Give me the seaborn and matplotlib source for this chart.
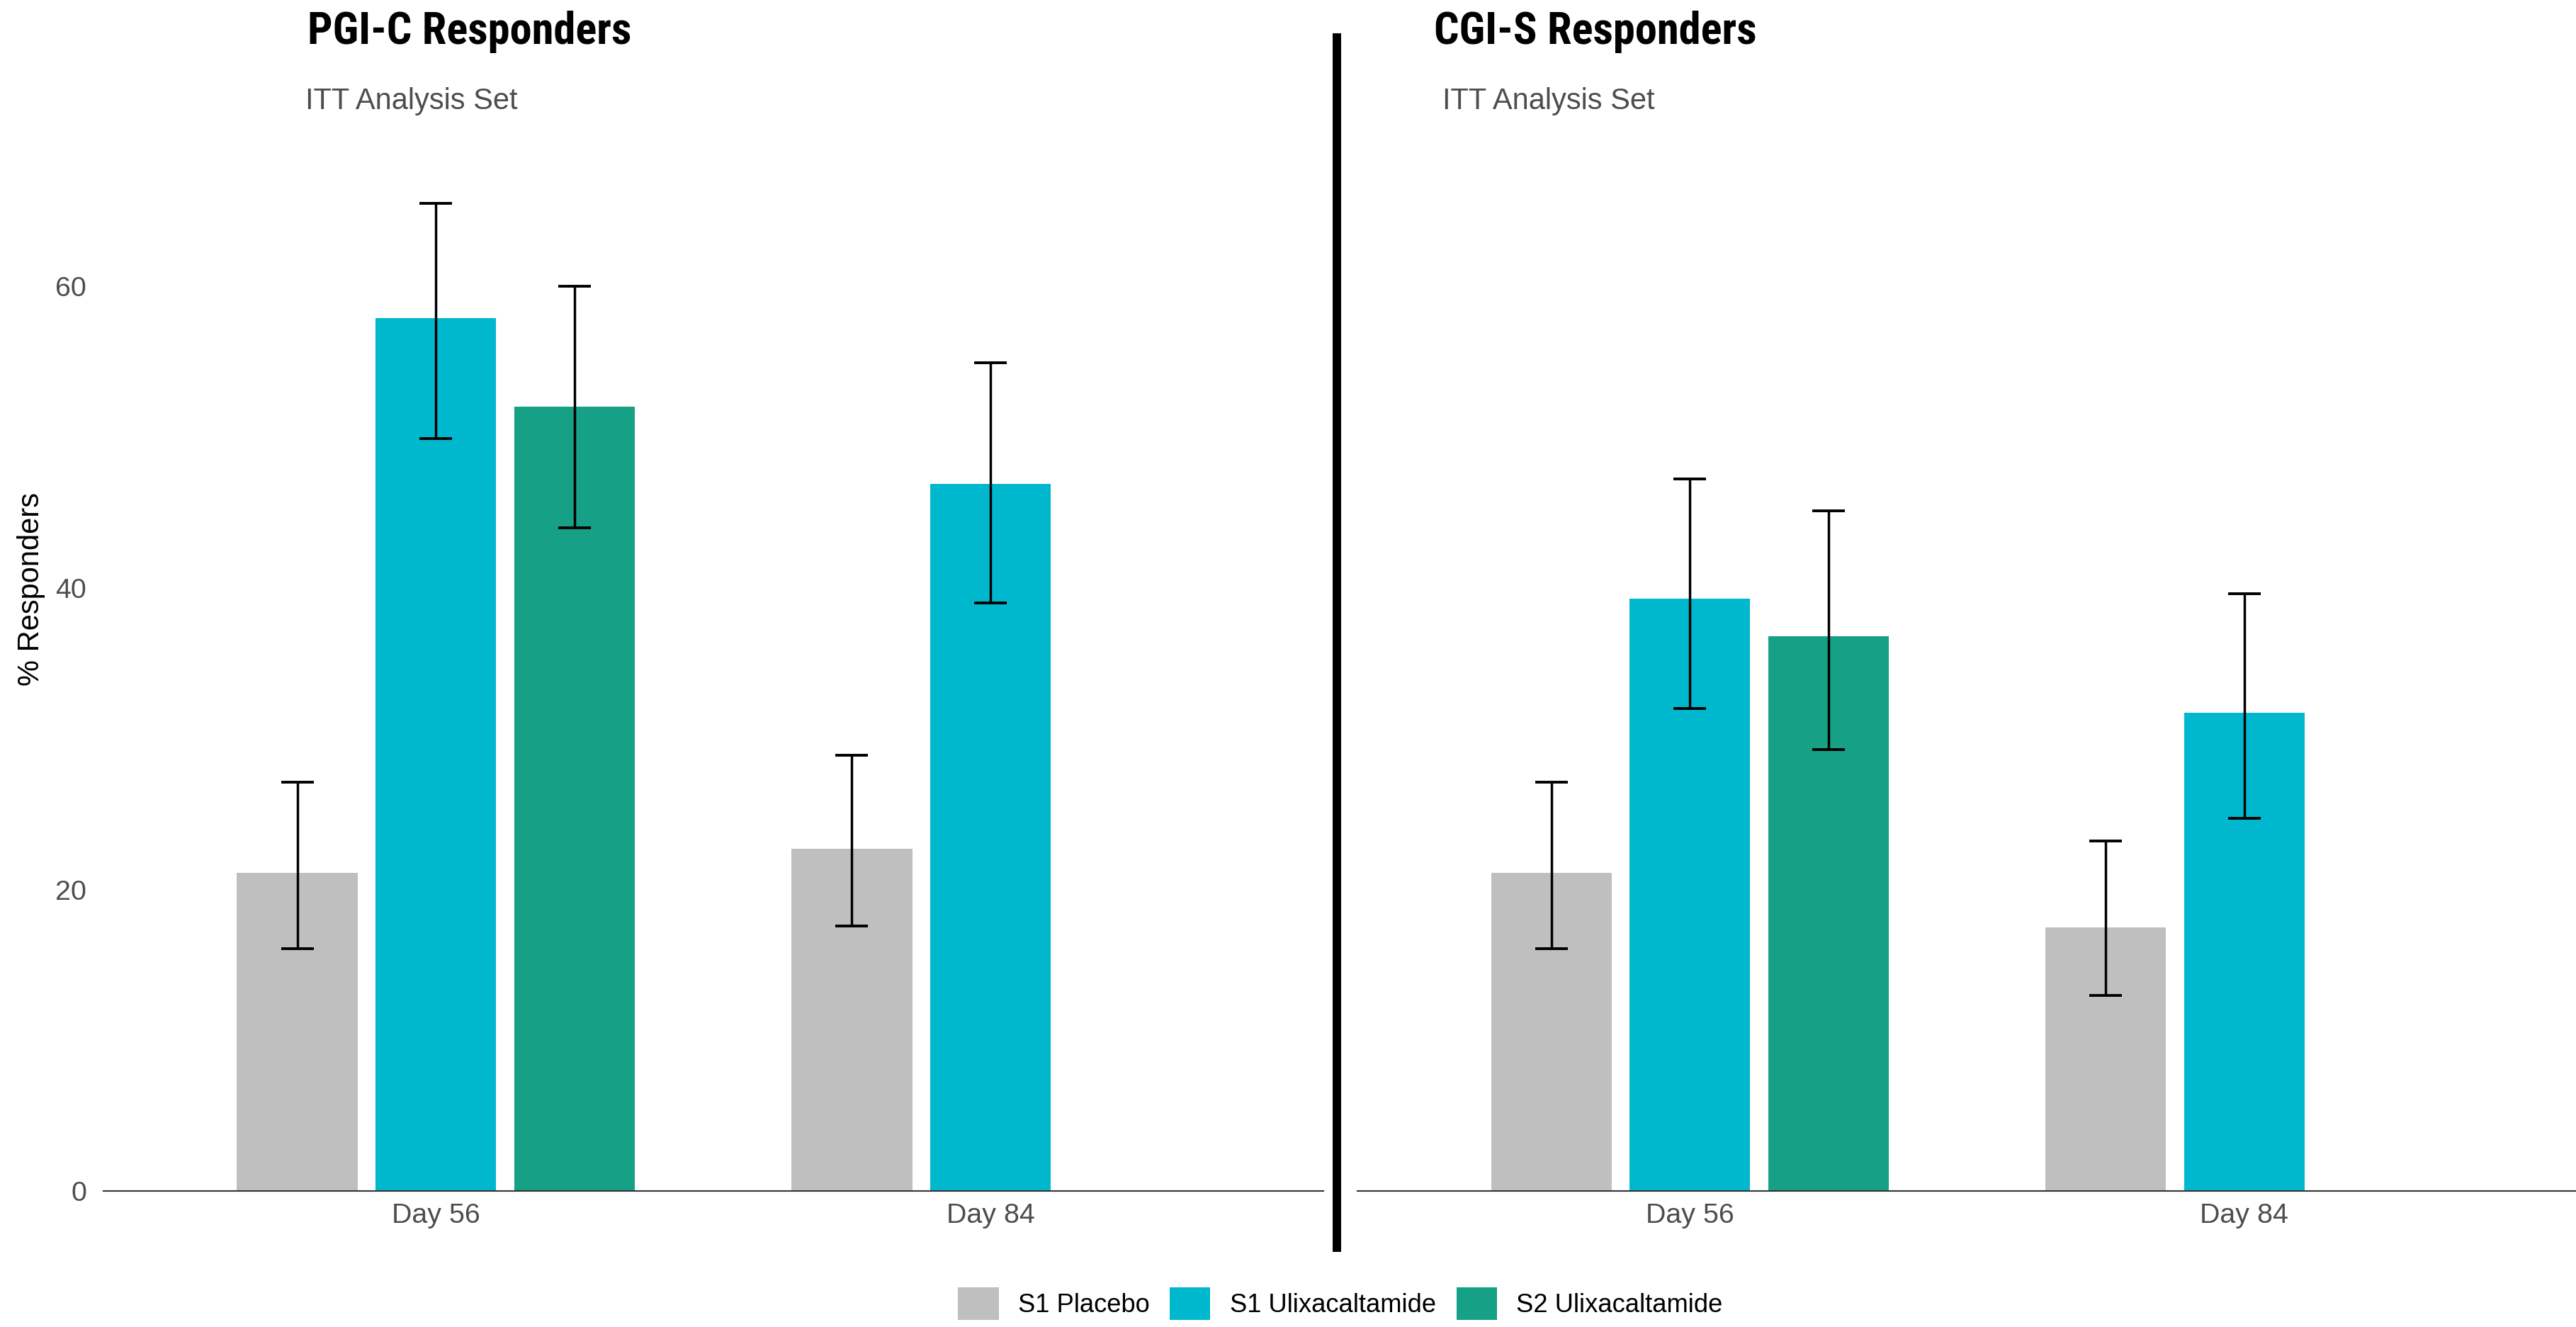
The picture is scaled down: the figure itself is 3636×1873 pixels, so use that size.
import numpy as np
import pandas as pd
import matplotlib
matplotlib.use("Agg")
import matplotlib.pyplot as plt
from matplotlib import font_manager
from matplotlib.patches import Patch
from matplotlib.lines import Line2D
import seaborn as sns

# ---- data -------------------------------------------------------------
visits = ["Day 56", "Day 84"]
groups = ["S1 Placebo", "S1 Ulixacaltamide", "S2 Ulixacaltamide"]
palette = {"S1 Placebo": "#BFBFBF",
           "S1 Ulixacaltamide": "#00B8CD",
           "S2 Ulixacaltamide": "#16A085"}

row_visit = ["Day 56", "Day 56", "Day 56", "Day 84", "Day 84"]
row_group = ["S1 Placebo", "S1 Ulixacaltamide", "S2 Ulixacaltamide",
             "S1 Placebo", "S1 Ulixacaltamide"]

pgic_pct = [21.1, 57.9, 52.0, 22.7, 46.9]
pgic_lo = [16.1, 49.9, 44.0, 17.6, 39.0]
pgic_hi = [27.1, 65.5, 60.0, 28.9, 54.9]

cgis_pct = [21.1, 39.3, 36.8, 17.5, 31.7]
cgis_lo = [16.1, 32.0, 29.3, 13.0, 24.7]
cgis_hi = [27.1, 47.2, 45.1, 23.2, 39.6]

y_ticks = [0, 20, 40, 60]
panel_titles = ["PGI-C Responders", "CGI-S Responders"]
panel_subtitle = "ITT Analysis Set"
y_label = "% Responders"

# ---- style ------------------------------------------------------------
sns.set_theme(style="white")
installed = {f.name for f in font_manager.fontManager.ttflist}
body_font = next(n for n in ["Liberation Sans", "DejaVu Sans"] if n in installed)
title_font = next(n for n in ["Roboto Condensed", "Liberation Sans Narrow",
                              "Roboto", "Liberation Sans"] if n in installed)
plt.rcParams["font.family"] = [body_font, "DejaVu Sans"]

W, H = 3637, 1873
fig = plt.figure(figsize=(W / 100, H / 100), dpi=100)

base_px = 1681.3          # pixel row of the zero line
px_per_unit = 21.29
y_top = 68.7
ax_bottom = 1 - base_px / H
ax_height = y_top * px_per_unit / H

panels = [
    (145.5, 1868.0, pgic_pct, pgic_lo, pgic_hi, True),
    (1916.0, 3637.0, cgis_pct, cgis_lo, cgis_hi, False),
]

GREY = "#4D4D4D"
axes = []
for (x0, x1, pct, lo, hi, show_y) in panels:
    ax = fig.add_axes([x0 / W, ax_bottom, (x1 - x0) / W, ax_height])
    df = pd.DataFrame({"Visit": row_visit, "Group": row_group,
                       "Pct": pct, "Lo": lo, "Hi": hi})
    sns.barplot(data=df, x="Visit", y="Pct", hue="Group",
                order=visits, hue_order=groups, palette=palette,
                saturation=1, width=0.75, gap=0.13, errorbar=None,
                linewidth=0, legend=False, ax=ax)
    # confidence-interval whiskers, one per bar
    for p in ax.patches:
        h = p.get_height()
        row = df.loc[np.isclose(df["Pct"], h)].iloc[0]
        xc = p.get_x() + p.get_width() / 2
        ax.errorbar([xc], [h], yerr=[[h - row["Lo"]], [row["Hi"] - h]],
                    fmt="none", ecolor="black", elinewidth=2.5,
                    capsize=16.9, capthick=2.8, zorder=5)
    ax.set_xlim(-0.6, 1.6)
    ax.set_ylim(0, y_top)
    ax.set_xlabel("")
    ax.set_ylabel("")
    for side in ["left", "right", "top"]:
        ax.spines[side].set_visible(False)
    ax.spines["bottom"].set_color("#333333")
    ax.spines["bottom"].set_linewidth(1.5)
    ax.tick_params(axis="x", length=0, pad=12, labelsize=28.4, labelcolor=GREY)
    if show_y:
        ax.set_yticks(y_ticks)
        ax.tick_params(axis="y", length=0, pad=17, labelsize=28.4, labelcolor=GREY)
    else:
        ax.set_yticks([])
    ax.grid(False)
    axes.append(ax)

# titles and subtitles
title_size = 45 if title_font != "Roboto" else 40
for tx, sx, title in [(433.6, 431.0, panel_titles[0]),
                      (2024.5, 2035.7, panel_titles[1])]:
    fig.text(tx / W, 1 - 62 / H, title, family=[title_font, "DejaVu Sans"],
             fontsize=title_size, fontweight="bold", color="black",
             ha="left", va="baseline")
    fig.text(sx / W, 1 - 154 / H, panel_subtitle, fontsize=30,
             color=GREY, ha="left", va="baseline")

# y-axis label
fig.text(43.7 / W, 1 - 832 / H, y_label, rotation=90, fontsize=30,
         color="black", ha="center", va="center")

# divider between panels
fig.add_artist(Line2D([1887.5 / W, 1887.5 / W], [1 - 47 / H, 1 - 1767 / H],
                      transform=fig.transFigure, color="black",
                      linewidth=8.6, solid_capstyle="butt"))

# legend
handles = [Patch(facecolor=palette[g], edgecolor="none", label=g) for g in groups]
fig.legend(handles=handles, loc="center", bbox_to_anchor=(1892 / W, 1 - 1840 / H),
           ncol=3, frameon=False, fontsize=26.2, handlelength=1.57,
           handleheight=1.59, handletextpad=0.76, columnspacing=0.78,
           borderpad=0, labelcolor="black")

fig.savefig("out.png", dpi=100, facecolor="white")
